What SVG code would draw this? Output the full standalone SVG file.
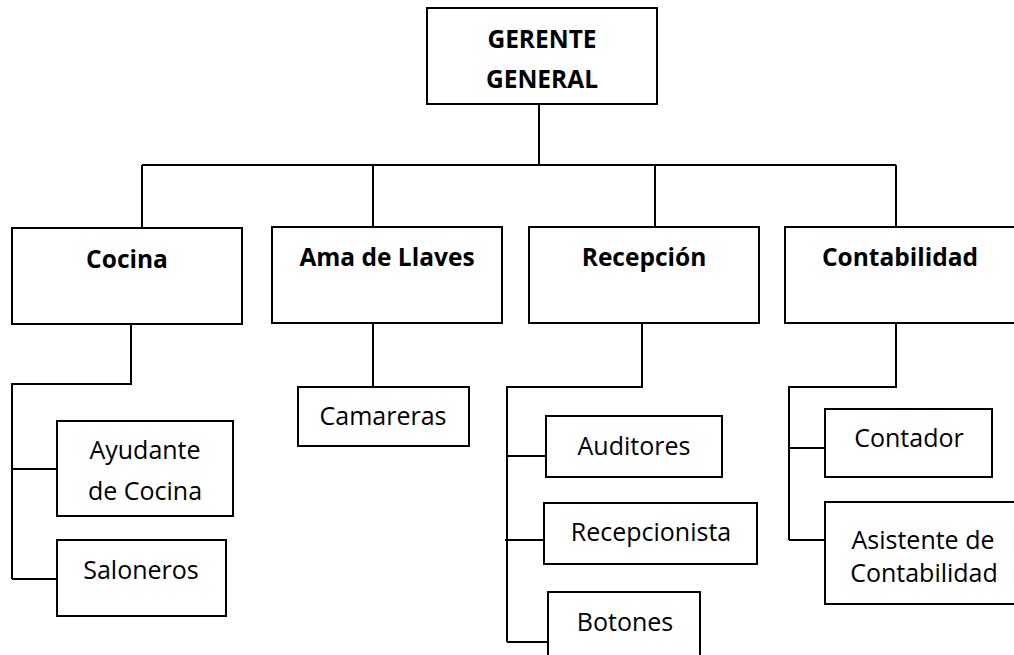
<svg xmlns="http://www.w3.org/2000/svg" width="1014" height="655" viewBox="0 0 1014 655">
<style>
.box{fill:#fff;stroke:#000;stroke-width:2}
.ln{fill:none;stroke:#000;stroke-width:2}
.b{font-family:"Open Sans","Liberation Sans",sans-serif;font-weight:bold;font-size:24.5px;text-anchor:middle;fill:#000}
.r{font-family:"Open Sans","Liberation Sans",sans-serif;font-size:25px;text-anchor:middle;fill:#000}
</style>
<rect width="1014" height="655" fill="#fff"/>
<g id="connectors">
<path class="ln" d="M539 104V165M142 165H896M142 165V228M373 165V227M655 165V227M896 165V227"/>
<path class="ln" d="M131 324V384H12V579M12 469H57M12 579H57"/>
<path class="ln" d="M373 323V387"/>
<path class="ln" d="M642 323V387H507V642M507 456H546M505 540H544M507 642H548"/>
<path class="ln" d="M896 323V387H789V540M789 448H825M789 540H825"/>
</g>
<g id="gerente"><rect class="box" x="427" y="8" width="230" height="96"/><text class="b" x="542" y="48">GERENTE</text><text class="b" x="542" y="88">GENERAL</text></g>
<g id="cocina"><rect class="box" x="12" y="228" width="230" height="96"/><text class="b" x="127" y="268">Cocina</text></g>
<g id="ama"><rect class="box" x="272" y="227" width="230" height="96"/><text class="b" x="387" y="266">Ama de Llaves</text></g>
<g id="recepcion"><rect class="box" x="529" y="227" width="230" height="96"/><text class="b" x="644" y="266">Recepción</text></g>
<g id="contabilidad"><rect class="box" x="785" y="227" width="235" height="96"/><text class="b" x="900" y="266">Contabilidad</text></g>
<g id="ayudante"><rect class="box" x="57" y="421" width="176" height="95"/><text class="r" x="145" y="459">Ayudante</text><text class="r" x="145" y="500">de Cocina</text></g>
<g id="saloneros"><rect class="box" x="57" y="540" width="169" height="76"/><text class="r" x="141" y="579">Saloneros</text></g>
<g id="camareras"><rect class="box" x="298" y="387" width="171" height="59"/><text class="r" x="383" y="425">Camareras</text></g>
<g id="auditores"><rect class="box" x="546" y="416" width="176" height="61"/><text class="r" x="634" y="455">Auditores</text></g>
<g id="recepcionista"><rect class="box" x="544" y="503" width="213" height="61"/><text class="r" x="651" y="541">Recepcionista</text></g>
<g id="botones"><rect class="box" x="548" y="592" width="152" height="70"/><text class="r" x="625" y="631">Botones</text></g>
<g id="contador"><rect class="box" x="825" y="409" width="167" height="68"/><text class="r" x="909" y="447">Contador</text></g>
<g id="asistente"><rect class="box" x="825" y="502" width="195" height="102"/><text class="r" x="923" y="549">Asistente de</text><text class="r" x="924" y="582">Contabilidad</text></g>
</svg>
